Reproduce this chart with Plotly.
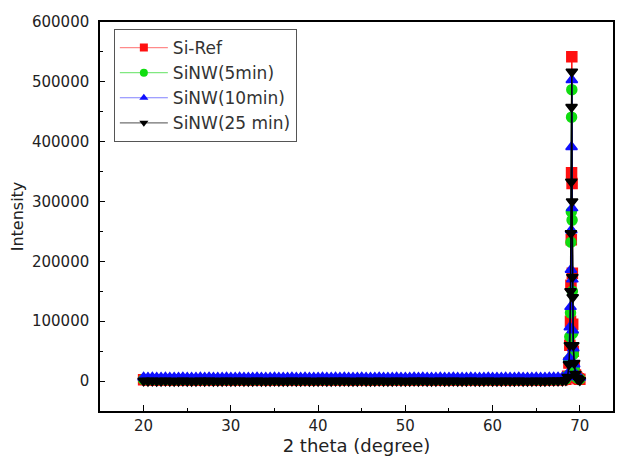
import plotly.graph_objects as go

# ---- data ----
names = ["Si-Ref", "SiNW(5min)", "SiNW(10min)", "SiNW(25 min)"]
colors = ["#ff1010", "#10dd10", "#1010ff", "#000000"]
legend_line_colors = ["#ff8a8a", "#80e880", "#8080ff", "#707070"]
symbols = ["square", "circle", "triangle-up", "triangle-down"]

base_x = [20.0, 20.5, 21.0, 21.5, 22.0, 22.5, 23.0, 23.5, 24.0, 24.5,
          25.0, 25.5, 26.0, 26.5, 27.0, 27.5, 28.0, 28.5, 29.0, 29.5,
          30.0, 30.5, 31.0, 31.5, 32.0, 32.5, 33.0, 33.5, 34.0, 34.5,
          35.0, 35.5, 36.0, 36.5, 37.0, 37.5, 38.0, 38.5, 39.0, 39.5,
          40.0, 40.5, 41.0, 41.5, 42.0, 42.5, 43.0, 43.5, 44.0, 44.5,
          45.0, 45.5, 46.0, 46.5, 47.0, 47.5, 48.0, 48.5, 49.0, 49.5,
          50.0, 50.5, 51.0, 51.5, 52.0, 52.5, 53.0, 53.5, 54.0, 54.5,
          55.0, 55.5, 56.0, 56.5, 57.0, 57.5, 58.0, 58.5, 59.0, 59.5,
          60.0, 60.5, 61.0, 61.5, 62.0, 62.5, 63.0, 63.5, 64.0, 64.5,
          65.0, 65.5, 66.0, 66.5, 67.0, 67.5, 68.0]

ref_base = [2100, 2000, 2050, 1950, 2000, 2100, 2000, 1900, 2000, 2050,
            2000, 1950, 2000, 2100, 2000, 2050, 1950, 2000, 2000, 2100,
            1950, 2000, 2050, 2000, 1900, 2000, 2100, 2000, 1950, 2000,
            2050, 2000, 2000, 1950, 2100, 2000, 2000, 2050, 1950, 2000,
            2000, 2100, 2000, 1950, 2050, 2000, 2100, 2000, 1950, 2000,
            2050, 2000, 1900, 2000, 2100, 2000, 1950, 2000, 2050, 2000,
            2000, 1950, 2100, 2000, 2050, 1950, 2000, 2000, 2100, 1950,
            2000, 2050, 2000, 1900, 2000, 2100, 2000, 1950, 2000, 2050,
            2000, 2000, 1950, 2100, 2000, 2000, 2050, 1950, 2000, 2000,
            2100, 2000, 1950, 2050, 2100, 2200, 2400]
nw5_base = [2600, 2500, 2550, 2450, 2500, 2600, 2500, 2400, 2500, 2550,
            2500, 2450, 2500, 2600, 2500, 2550, 2450, 2500, 2500, 2600,
            2450, 2500, 2550, 2500, 2400, 2500, 2600, 2500, 2450, 2500,
            2550, 2500, 2500, 2450, 2600, 2500, 2500, 2550, 2450, 2500,
            2500, 2600, 2500, 2450, 2550, 2500, 2600, 2500, 2450, 2500,
            2550, 2500, 2400, 2500, 2600, 2500, 2450, 2500, 2550, 2500,
            2500, 2450, 2600, 2500, 2550, 2450, 2500, 2500, 2600, 2450,
            2500, 2550, 2500, 2400, 2500, 2600, 2500, 2450, 2500, 2550,
            2500, 2500, 2450, 2600, 2500, 2500, 2550, 2450, 2500, 2500,
            2600, 2500, 2450, 2550, 2600, 2700, 2900]
nw10_base = [5900, 5800, 5850, 5750, 5800, 5900, 5800, 5700, 5800, 5850,
             5800, 5750, 5800, 5900, 5800, 5850, 5750, 5800, 5800, 5900,
             5750, 5800, 5850, 5800, 5700, 5800, 5900, 5800, 5750, 5800,
             5850, 5800, 5800, 5750, 5900, 5800, 5800, 5850, 5750, 5800,
             5800, 5900, 5800, 5750, 5850, 5800, 5900, 5800, 5750, 5800,
             5850, 5800, 5700, 5800, 5900, 5800, 5750, 5800, 5850, 5800,
             5800, 5750, 5900, 5800, 5850, 5750, 5800, 5800, 5900, 5750,
             5800, 5850, 5800, 5700, 5800, 5900, 5800, 5750, 5800, 5850,
             5800, 5800, 5750, 5900, 5800, 5800, 5850, 5750, 5800, 5800,
             5900, 5800, 5750, 5850, 5900, 6000, 6200]
nw25_base = [400, 300, 350, 250, 300, 400, 300, 200, 300, 350,
             300, 250, 300, 400, 300, 350, 250, 300, 300, 400,
             250, 300, 350, 300, 200, 300, 400, 300, 250, 300,
             350, 300, 300, 250, 400, 300, 300, 350, 250, 300,
             300, 400, 300, 250, 350, 300, 400, 300, 250, 300,
             350, 300, 200, 300, 400, 300, 250, 300, 350, 300,
             300, 250, 400, 300, 350, 250, 300, 300, 400, 250,
             300, 350, 300, 200, 300, 400, 300, 250, 300, 350,
             300, 300, 250, 400, 300, 300, 350, 250, 300, 300,
             400, 300, 250, 350, 400, 500, 700]

peak_x = [68.4, 68.6, 68.75, 68.85, 68.93, 68.98, 69.02, 69.05, 69.08, 69.11,
          69.14, 69.18, 69.25, 69.35, 69.5, 69.65, 69.8, 70.0]

ref_peak = [3000, 8000, 30000, 60000, 100000, 160000, 236000, 348000, 542000, 330000,
            180000, 95000, 50000, 25000, 10000, 6000, 4000, 3000]
nw5_peak = [3500, 9000, 35000, 74000, 114000, 232000, 283000, 441000, 487000, 269000,
            150000, 80000, 45000, 22000, 9000, 6000, 4500, 3500]
nw10_peak = [6500, 12000, 40000, 90000, 124000, 186000, 252000, 391000, 503000, 289000,
             170000, 85000, 55000, 28000, 12000, 8000, 7000, 6000]
nw25_peak = [1500, 7000, 28000, 60000, 150000, 247000, 333000, 458000, 517000, 300000,
             174000, 140000, 60000, 30000, 12000, 5000, 3000, 1500]

series = [ref_base + ref_peak, nw5_base + nw5_peak, nw10_base + nw10_peak, nw25_base + nw25_peak]
x_all = base_x + peak_x

fig = go.Figure()
for name, col, sym, ys in zip(names, colors, symbols, series):
    fig.add_trace(go.Scatter(
        x=x_all, y=ys, name=name, mode="lines+markers", showlegend=False,
        line=dict(color=col, width=1.5),
        marker=dict(symbol=sym, size=10, color=col, line=dict(color=col, width=1.5)),
    ))
# legend entries (smaller symbols and faint lines, as in the reference)
for name, col, lcol, sym in zip(names, colors, legend_line_colors, symbols):
    fig.add_trace(go.Scatter(
        x=[None], y=[None], name=name, mode="lines+markers",
        line=dict(color=lcol, width=1.2),
        marker=dict(symbol=sym, size=8, color=col),
    ))

font_family = "DejaVu Sans"
fig.update_layout(
    width=617, height=457,
    margin=dict(l=100, r=2, t=22, b=46),
    paper_bgcolor="white", plot_bgcolor="white",
    font=dict(family=font_family, color="#222222"),
    showlegend=True,
    legend=dict(
        x=0.027, y=0.982, xanchor="left", yanchor="top",
        bordercolor="#555555", borderwidth=1, bgcolor="white",
        font=dict(size=17, family=font_family, color="#333333"),
        itemwidth=48, tracegroupgap=0,
    ),
)
fig.update_xaxes(
    range=[15, 73.8], tickvals=[20, 30, 40, 50, 60, 70],
    ticks="inside", ticklen=6, tickwidth=1.2, tickcolor="black",
    minor=dict(tickvals=[25, 35, 45, 55, 65], ticks="inside", ticklen=3, tickcolor="black"),
    showline=True, linecolor="black", linewidth=1.5, mirror=True,
    showgrid=False, zeroline=False,
    tickfont=dict(size=15), ticklabelstandoff=0,
    title=dict(text="2 theta (degree)", font=dict(size=18), standoff=6),
)
fig.update_yaxes(
    range=[-50000, 600000], tickvals=[0, 100000, 200000, 300000, 400000, 500000, 600000],
    ticktext=["0", "100000", "200000", "300000", "400000", "500000", "600000"],
    ticks="inside", ticklen=5, tickwidth=1.2, tickcolor="black",
    minor=dict(tickvals=[50000, 150000, 250000, 350000, 450000, 550000], ticks="inside", ticklen=3, tickcolor="black"),
    showline=True, linecolor="black", linewidth=1.5, mirror=True,
    showgrid=False, zeroline=False,
    tickfont=dict(size=15), ticklabelstandoff=6,
    title=dict(text="Intensity", font=dict(size=16), standoff=4),
)

fig.write_html("out.html")
